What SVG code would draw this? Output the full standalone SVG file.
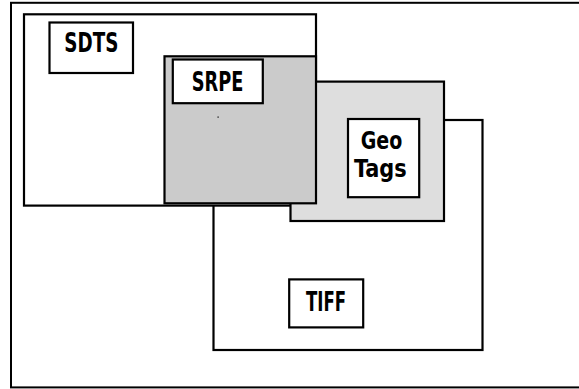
<svg xmlns="http://www.w3.org/2000/svg" width="579" height="389" viewBox="0 0 579 389">
<style>
.frame{fill:none;stroke:#000;stroke-width:2}
.area{stroke:#000;stroke-width:2.2}
.lbl{fill:#fff;stroke:#000;stroke-width:2.2}
.t{font-family:"Liberation Sans Narrow","DejaVu Sans Condensed","Liberation Sans",sans-serif;font-weight:bold;font-size:27px;fill:#000;text-anchor:middle}
.s{font-size:24px}
</style>
<rect width="579" height="389" fill="#fff"/>
<rect class="frame" x="11" y="2.8" width="580" height="384.6"/>
<g id="tiff">
<rect class="area" x="213.5" y="120" width="269" height="230" fill="#fff"/>
<rect class="lbl" x="289.2" y="279.4" width="74" height="48"/>
<text class="t" x="326" y="310.7" textLength="40" lengthAdjust="spacingAndGlyphs">TIFF</text>
</g>
<g id="sdts">
<rect class="area" x="24" y="14.3" width="292" height="191.3" fill="#fff"/>
<rect class="lbl" x="49.5" y="22.5" width="83.5" height="50.5"/>
<text class="t" x="91.3" y="52.3" textLength="54" lengthAdjust="spacingAndGlyphs">SDTS</text>
</g>
<g id="geotags">
<rect class="area" x="290.5" y="81.6" width="153.5" height="139.4" fill="#dedede"/>
<rect class="lbl" x="348" y="119" width="71.2" height="78.2"/>
<text class="t s" x="381.5" y="149" textLength="41.6" lengthAdjust="spacingAndGlyphs">Geo</text>
<text class="t s" x="380.3" y="176.5" textLength="52.7" lengthAdjust="spacingAndGlyphs">Tags</text>
</g>
<g id="srpe">
<rect class="area" x="164.5" y="56.3" width="151.5" height="147" fill="#cbcbcb"/>
<rect class="lbl" x="172.8" y="59.5" width="90" height="43.7"/>
<text class="t" x="217.5" y="90.7" textLength="51.6" lengthAdjust="spacingAndGlyphs">SRPE</text>
<rect x="217.5" y="116.5" width="1.2" height="1.2" fill="#000"/>
</g>
<g id="connectors"/>
</svg>
